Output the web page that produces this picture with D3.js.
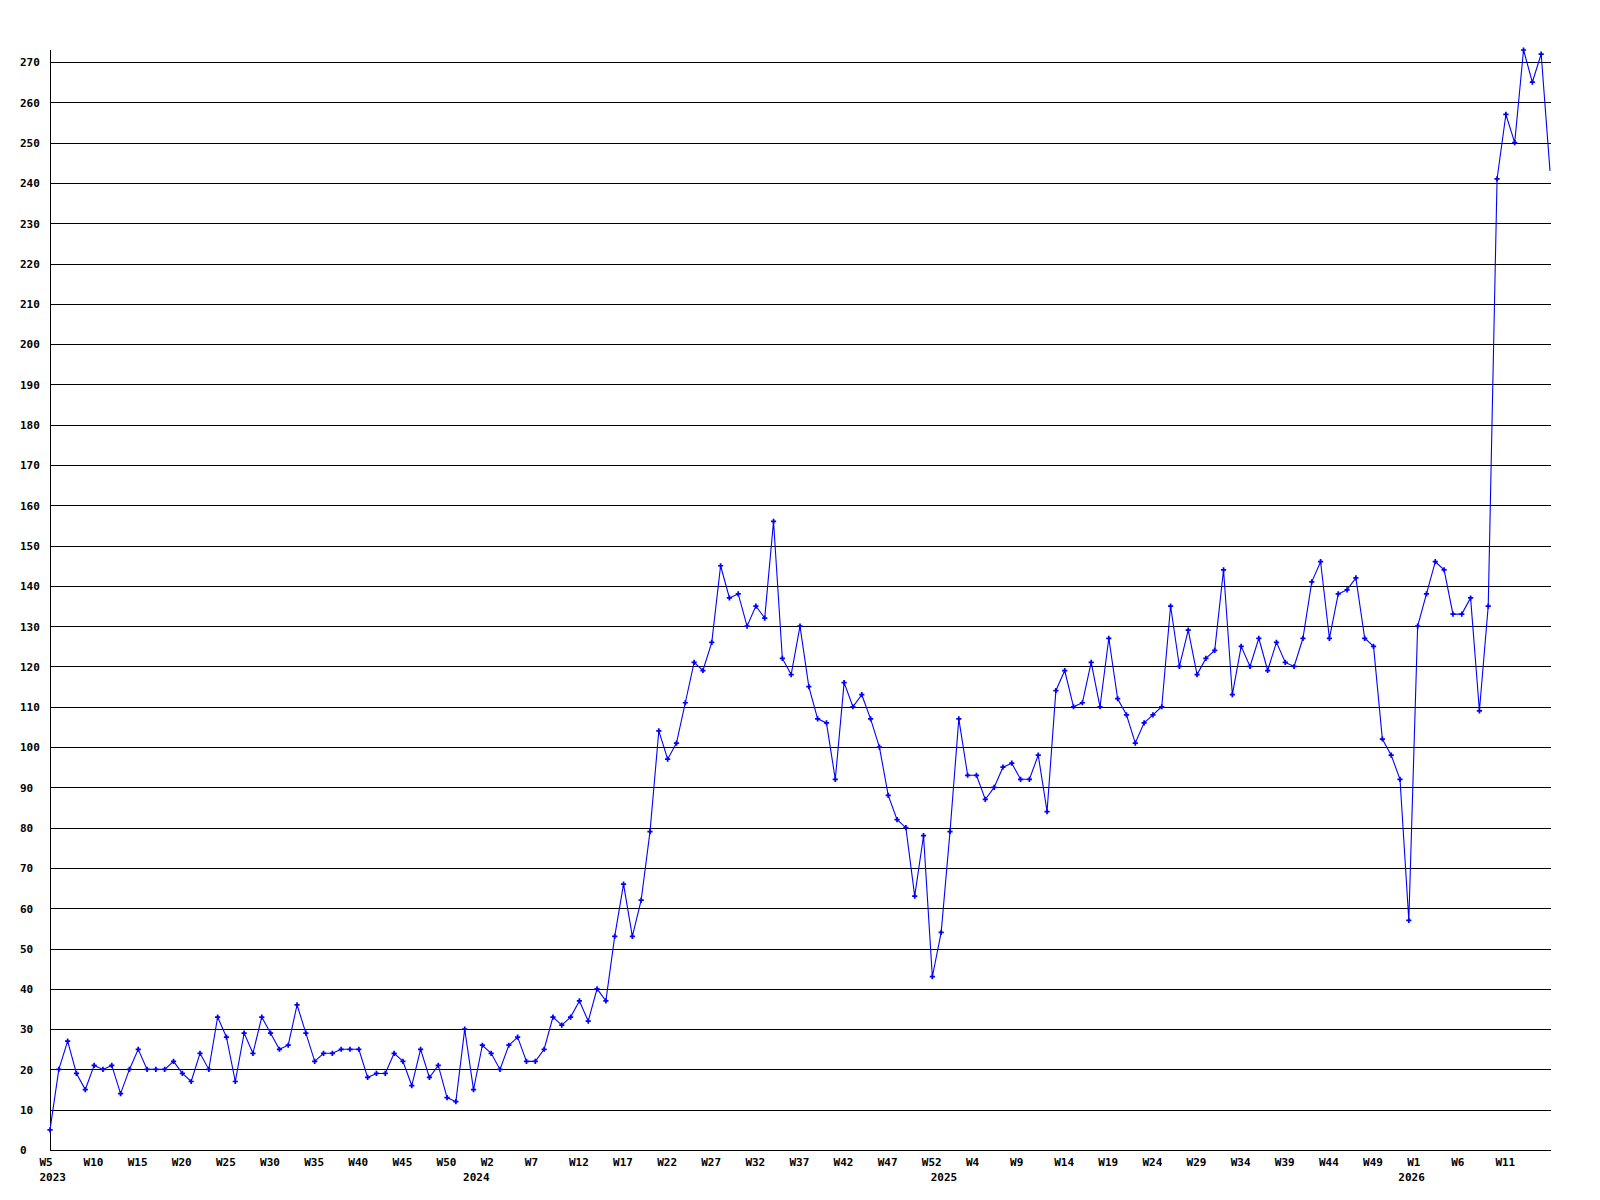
<!DOCTYPE html>
<html>
<head>
<meta charset="utf-8">
<script src="https://cdn.jsdelivr.net/npm/d3@7"></script>
<style>
  html, body { margin: 0; padding: 0; background: #fff; }
  svg { display: block; }
  text { font-family: "DejaVu Sans Mono", "Liberation Mono", monospace; font-weight: bold; font-size: 11px; fill: #000; }
</style>
</head>
<body>
<svg id="chart" width="1600" height="1200"></svg>
<script>
// Weekly values, 2023 W5 onward (one per week)
const weekValues = [
  5, 20, 27, 19, 15, 21, 20, 21, 14, 20,
  25, 20, 20, 20, 22, 19, 17, 24, 20, 33,
  28, 17, 29, 24, 33, 29, 25, 26, 36, 29,
  22, 24, 24, 25, 25, 25, 18, 19, 19, 24,
  22, 16, 25, 18, 21, 13, 12, 30, 15, 26,
  24, 20, 26, 28, 22, 22, 25, 33, 31, 33,
  37, 32, 40, 37, 53, 66, 53, 62, 79, 104,
  97, 101, 111, 121, 119, 126, 145, 137, 138, 130,
  135, 132, 156, 122, 118, 130, 115, 107, 106, 92,
  116, 110, 113, 107, 100, 88, 82, 80, 63, 78,
  43, 54, 79, 107, 93, 93, 87, 90, 95, 96,
  92, 92, 98, 84, 114, 119, 110, 111, 121, 110,
  127, 112, 108, 101, 106, 108, 110, 135, 120, 129,
  118, 122, 124, 144, 113, 125, 120, 127, 119, 126,
  121, 120, 127, 141, 146, 127, 138, 139, 142, 127,
  125, 102, 98, 92, 57, 130, 138, 146, 144, 133,
  133, 137, 109, 135, 241, 257, 250, 273, 265, 272,
  243
];

// Week tick labels, one every 5 points
const weekTickLabels = [
  "W5","W10","W15","W20","W25","W30","W35","W40","W45","W50",
  "W2","W7","W12","W17","W22","W27","W32","W37","W42","W47","W52",
  "W4","W9","W14","W19","W24","W29","W34","W39","W44","W49",
  "W1","W6","W11"
];
const weekTickStep = 5;

// Year labels and the point index where each starts
const yearLabels = ["2023", "2024", "2025", "2026"];
const yearStartIndex = [0, 48, 101, 154];

// Y tick values
const yTickValues = d3.range(0, 271, 10);
const yMax = 273;

const svg = d3.select("#chart");
const M = { left: 50, right: 1550, top: 50, bottom: 1150 };

const x = d3.scaleLinear().domain([0, weekValues.length - 1]).range([M.left, M.right]);
const y = d3.scaleLinear().domain([0, yMax]).range([M.bottom, M.top]);

// Gridlines + y labels
const yAxis = d3.axisLeft(y)
  .tickValues(yTickValues)
  .tickSize(-(M.right - M.left + 1))
  .tickFormat(d3.format("d"));
const gy = svg.append("g").attr("transform", `translate(${M.left},0)`).call(yAxis);
gy.attr("font-size", null).attr("font-family", null);
gy.select(".domain").remove();
gy.selectAll(".tick line").attr("stroke", "#000").attr("stroke-width", 1).attr("shape-rendering", "crispEdges");
gy.selectAll(".tick text")
  .attr("x", 20 - M.left)
  .attr("text-anchor", "start")
  .attr("dy", "0.35em");

// Y axis line
svg.append("line")
  .attr("x1", M.left).attr("x2", M.left)
  .attr("y1", M.top).attr("y2", M.bottom)
  .attr("stroke", "#000").attr("stroke-width", 1)
  .attr("shape-rendering", "crispEdges");

// X tick labels
const xTicks = weekTickLabels.map((t, i) => ({ label: t, idx: i * weekTickStep }));
svg.append("g").selectAll("text")
  .data(xTicks)
  .join("text")
  .attr("x", d => x(d.idx) - 10.5)
  .attr("y", 1166)
  .attr("text-anchor", "start")
  .text(d => d.label);

svg.append("g").selectAll("text")
  .data(yearLabels.map((t, i) => ({ label: t, idx: yearStartIndex[i] })))
  .join("text")
  .attr("x", d => x(d.idx) - 10.5)
  .attr("y", 1181)
  .attr("text-anchor", "start")
  .text(d => d.label);

// Clip paths
const defs = svg.append("defs");
defs.append("clipPath").attr("id", "plotClip")
  .append("rect").attr("x", M.left).attr("y", 0).attr("width", M.right - M.left + 1).attr("height", 1200);
defs.append("clipPath").attr("id", "markClip")
  .append("rect").attr("x", M.left - 4).attr("y", 0).attr("width", M.right - M.left + 1).attr("height", 1200);

// Line
const line = d3.line().x((d, i) => x(i)).y(d => y(d));
svg.append("path")
  .datum(weekValues)
  .attr("clip-path", "url(#plotClip)")
  .attr("fill", "none")
  .attr("stroke", "#0000ff")
  .attr("stroke-width", 1.1)
  .attr("d", line);

// Markers
const sym = d3.symbol().type(d3.symbolCross).size(15);
svg.append("g").attr("clip-path", "url(#markClip)")
  .selectAll("path")
  .data(weekValues)
  .join("path")
  .attr("transform", (d, i) => `translate(${x(i)},${y(d)})`)
  .attr("fill", "#0000ff")
  .attr("d", sym);
</script>
</body>
</html>
